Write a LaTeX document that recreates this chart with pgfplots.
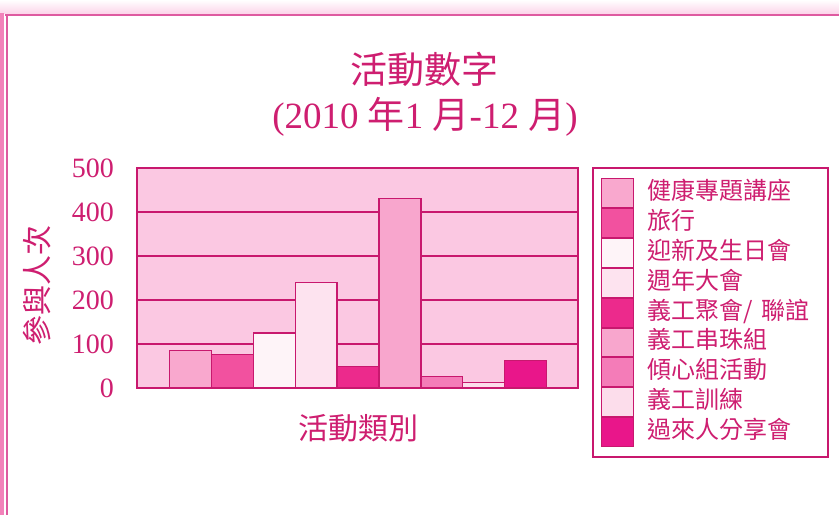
\documentclass[border=0pt]{standalone}
\usepackage{pgfplots}
\pgfplotsset{compat=1.18}
\usepackage{fontspec}
\setmainfont{Liberation Serif}
\newfontfamily\cjk{Noto Sans CJK TC}
\definecolor{txtpink}{RGB}{206,30,112}
\definecolor{linepink}{RGB}{200,24,110}
\definecolor{bgpink}{RGB}{251,200,226}
\definecolor{c1}{RGB}{249,168,206}
\definecolor{c2}{RGB}{242,81,159}
\definecolor{c3}{RGB}{254,244,248}
\definecolor{c4}{RGB}{253,227,239}
\definecolor{c5}{RGB}{236,42,140}
\definecolor{c6}{RGB}{248,166,205}
\definecolor{c7}{RGB}{244,124,184}
\definecolor{c8}{RGB}{252,221,235}
\definecolor{c9}{RGB}{233,22,138}
\definecolor{framepink}{RGB}{222,90,160}
\definecolor{topband}{RGB}{252,214,234}
\definecolor{leftband}{RGB}{242,130,186}
\begin{document}
\begin{tikzpicture}
\useasboundingbox (0pt,0pt) rectangle (839pt,-515pt);
\fill[white] (0pt,0pt) rectangle (839pt,-515pt);
\fill[top color=white, bottom color=topband] (0pt,0pt) rectangle (839pt,-13pt);
\draw[framepink, line width=2.5pt] (5pt,-15pt) -- (839pt,-15pt);
\fill[leftband] (0pt,-13pt) rectangle (4pt,-515pt);
\draw[framepink, line width=2pt] (7pt,-15pt) -- (7pt,-515pt);
\begin{axis}[
  at={(137pt,-388pt)}, anchor=south west,
  scale only axis, width=441pt, height=220pt,
  ybar, bar width=1,
  xmin=-0.27, xmax=10.245,
  ymin=0, ymax=500,
  ytick={0,100,200,300,400,500},
  xtick=\empty,
  major tick length=0pt,
  axis line style={linepink, line width=2pt},
  axis background/.style={fill=bgpink},
  ymajorgrids,
  grid style={linepink, line width=1.5pt},
  /pgf/number format/assume math mode=true,
  yticklabel style={font=\fontsize{28}{28}\selectfont, text=txtpink, inner sep=0pt, xshift=-23pt},
  title={{\cjk 活動數字}\\(2010 {\cjk 年}1 {\cjk 月}-12 {\cjk 月})},
  title style={align=center, font=\fontsize{37}{45}\selectfont, text=txtpink,
    at={(axis description cs:0.653,1.31)}, anchor=center},
  xlabel={\cjk 活動類別},
  xlabel style={font=\fontsize{30}{30}\selectfont, text=txtpink,
    at={(axis description cs:0.503,-0.182)}, anchor=center},
  ylabel={\cjk 參與人次},
  ylabel style={font=\fontsize{30}{30}\selectfont, text=txtpink,
    at={(axis description cs:-0.2268,0.468)}, anchor=center},
  legend image code/.code={\draw[#1, line width=1pt] (0pt,-14.45pt) rectangle (32pt,14.45pt);},
  legend cell align=left,
  legend style={at={(axis description cs:1.0317,1.0045)}, anchor=north west,
    draw=linepink, line width=2pt, fill=white,
    font=\cjk\fontsize{24}{28}\selectfont, text=txtpink,
    inner xsep=8pt, inner ysep=10pt, row sep=0pt,
    /tikz/every odd column/.style={column sep=14pt},
    nodes={inner sep=0pt, text height=18pt, text depth=5pt, text width=172pt}},
]
\addplot[fill=c1, draw=linepink, line width=1.2pt, bar shift=0pt] coordinates {(1,85)};
\addplot[fill=c2, draw=linepink, line width=1.2pt, bar shift=0pt] coordinates {(2,76)};
\addplot[fill=c3, draw=linepink, line width=1.2pt, bar shift=0pt] coordinates {(3,125)};
\addplot[fill=c4, draw=linepink, line width=1.2pt, bar shift=0pt] coordinates {(4,240)};
\addplot[fill=c5, draw=linepink, line width=1.2pt, bar shift=0pt] coordinates {(5,49)};
\addplot[fill=c6, draw=linepink, line width=1.2pt, bar shift=0pt] coordinates {(6,430)};
\addplot[fill=c7, draw=linepink, line width=1.2pt, bar shift=0pt] coordinates {(7,27)};
\addplot[fill=c8, draw=linepink, line width=1.2pt, bar shift=0pt] coordinates {(8,13)};
\addplot[fill=c9, draw=linepink, line width=1.2pt, bar shift=0pt] coordinates {(9,63)};
\legend{健康專題講座,旅行,迎新及生日會,週年大會,義工聚會/ 聯誼,義工串珠組,傾心組活動,義工訓練,過來人分享會}
\end{axis}
\end{tikzpicture}
\end{document}
